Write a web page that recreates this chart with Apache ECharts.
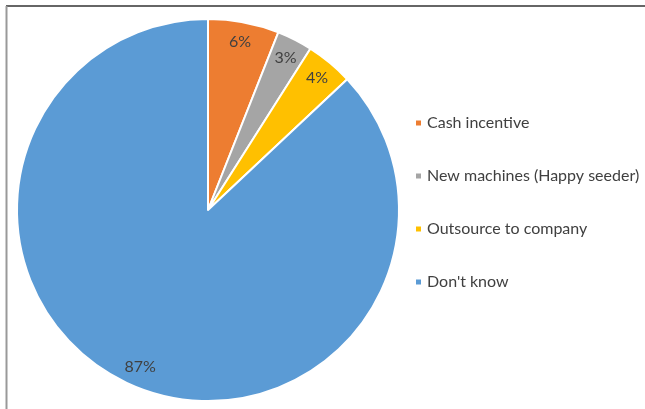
<!DOCTYPE html>
<html>
<head>
<meta charset="utf-8">
<script src="https://cdn.jsdelivr.net/npm/echarts@6/dist/echarts.min.js"></script>
<style>
html,body{margin:0;padding:0;background:#fff;}
#c{width:645px;height:409px;}
</style>
</head>
<body>
<div id="c"></div>
<script>
const categories = ["Cash incentive", "New machines (Happy seeder)", "Outsource to company", "Don't know"];
const values = [6, 3, 4, 87];
const colors = ["#ED7D31", "#A5A5A5", "#FFC000", "#5B9BD5"];

const chart = echarts.init(document.getElementById('c'), null, {renderer: 'canvas'});
const font = 'Lato, "Open Sans", sans-serif';
const mainData = categories.map((n, i) => ({name: n, value: values[i], itemStyle: {color: colors[i]}}));
const labelData = categories.map((n, i) => ({name: n, value: values[i]}));

chart.setOption({
  animation: false,
  backgroundColor: '#fff',
  legend: {
    orient: 'vertical',
    left: 409,
    top: 110,
    itemWidth: 7,
    itemHeight: 7,
    itemGap: 37,
    icon: 'rect',
    data: categories,
    textStyle: {fontFamily: font, fontSize: 16, color: '#404040', padding: [0, 0, 0, 0]}
  },
  series: [
    {
      type: 'pie',
      center: [208, 210],
      radius: [0, 191],
      startAngle: 90,
      clockwise: true,
      data: mainData,
      itemStyle: {borderColor: '#fff', borderWidth: 2},
      label: {show: false},
      labelLine: {show: false},
      emphasis: {disabled: true}
    },
    {
      type: 'pie',
      center: [208, 210],
      radius: [146, 190],
      startAngle: 90,
      clockwise: true,
      silent: true,
      data: labelData,
      itemStyle: {color: 'rgba(0,0,0,0)'},
      label: {
        show: true,
        position: 'inside',
        formatter: '{c}%',
        fontFamily: font,
        fontSize: 16,
        color: '#404040'
      },
      labelLine: {show: false},
      emphasis: {disabled: true}
    }
  ],
  graphic: [
    {type: 'line', shape: {x1: 6, y1: 6, x2: 645, y2: 6}, style: {stroke: '#333', lineWidth: 1.5}},
    {type: 'line', shape: {x1: 6.5, y1: 6, x2: 6.5, y2: 409}, style: {stroke: '#999', lineWidth: 2}}
  ]
});
</script>
</body>
</html>
